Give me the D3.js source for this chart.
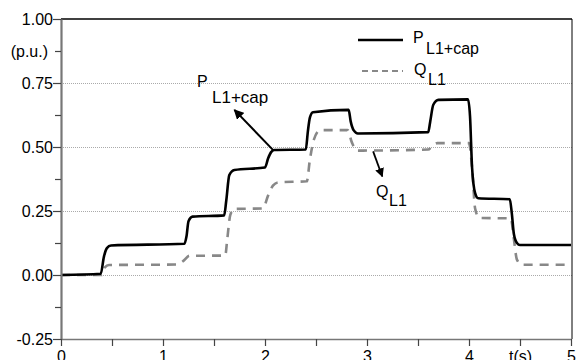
<!DOCTYPE html>
<html>
<head>
<meta charset="utf-8">
<script src="https://cdn.jsdelivr.net/npm/d3@7"></script>
<style>
  body { margin: 0; background: #fff; }
  text { font-family: "Liberation Sans", Arial, sans-serif; fill: #000; }
</style>
</head>
<body>
<div id="chart"></div>
<script>
// P_L1+cap (solid black)
var pTime = [0, 0.39, 0.42, 0.45, 0.49, 1.21, 1.23, 1.25, 1.29, 1.6, 1.62, 1.65, 1.7, 2.0, 2.03, 2.06, 2.09, 2.4, 2.42, 2.44, 2.47, 2.82, 2.84, 2.87, 2.91, 3.6, 3.62, 3.65, 3.7, 3.99, 4.01, 4.03, 4.06, 4.09, 4.4, 4.42, 4.44, 4.47, 4.5, 5.0];
var pValue = [0.0, 0.005, 0.07, 0.105, 0.115, 0.122, 0.15, 0.21, 0.228, 0.233, 0.29, 0.39, 0.41, 0.42, 0.455, 0.48, 0.488, 0.49, 0.56, 0.615, 0.636, 0.645, 0.6, 0.565, 0.553, 0.558, 0.6, 0.665, 0.684, 0.686, 0.62, 0.42, 0.32, 0.3, 0.296, 0.24, 0.16, 0.125, 0.117, 0.117];

// Q_L1 (dashed grey)
var qTime = [0, 0.4, 0.43, 0.47, 1.14, 1.2, 1.26, 1.61, 1.63, 1.66, 1.7, 1.98, 2.03, 2.08, 2.13, 2.41, 2.44, 2.48, 2.54, 2.81, 2.85, 2.9, 3.6, 3.64, 3.69, 4.0, 4.03, 4.06, 4.1, 4.41, 4.44, 4.47, 4.52, 5.0];
var qValue = [0.0, 0.0, 0.03, 0.039, 0.041, 0.055, 0.075, 0.076, 0.14, 0.235, 0.258, 0.26, 0.31, 0.35, 0.362, 0.366, 0.45, 0.53, 0.566, 0.566, 0.52, 0.486, 0.49, 0.505, 0.515, 0.515, 0.42, 0.26, 0.223, 0.221, 0.14, 0.06, 0.04, 0.04];

var yTicks = [1, 0.875, 0.75, 0.625, 0.5, 0.375, 0.25, 0.125, 0, -0.125, -0.25];
var yTickLabels = ["1.00", "(p.u.)", "0.75", "", "0.50", "", "0.25", "", "0.00", "", "-0.25"];
var xTicks = [0, 0.5, 1, 1.5, 2, 2.5, 3, 3.5, 4, 4.5, 5];
var xTickLabels = ["0", "", "1", "", "2", "", "3", "", "4", "t(s)", "5"];
var gridValues = [0.75, 0.5, 0.25, 0];

const drawChart = () => {

    var width = 577, height = 360;
    var mLeft = 61, mRight = 571, mTop = 19, mBottom = 339;

    var svg = d3.select("#chart").append("svg")
        .attr("width", width)
        .attr("height", height);

    var xScale = d3.scaleLinear().domain([0, 5]).range([mLeft, mRight]);
    var yScale = d3.scaleLinear().domain([-0.25, 1]).range([mBottom, mTop]);

    /* grid */
    svg.append("g").selectAll("line")
        .data(gridValues).enter()
        .append("line")
        .attr("x1", mLeft).attr("x2", mRight + 1)
        .attr("y1", d => Math.round(yScale(d)) + 0.5)
        .attr("y2", d => Math.round(yScale(d)) + 0.5)
        .style("stroke", "#aaa")
        .style("stroke-width", 1)
        .style("stroke-dasharray", "1,1");

    /* frame top and right */
    svg.append("line")
        .attr("x1", mLeft).attr("x2", mRight + 1)
        .attr("y1", yScale(1)).attr("y2", yScale(1))
        .style("stroke", "#000").style("stroke-width", 1.5);
    svg.append("line")
        .attr("x1", mRight + 1).attr("x2", mRight + 1)
        .attr("y1", yScale(1)).attr("y2", mBottom)
        .style("stroke", "#000").style("stroke-width", 1);

    /* lines */
    svg.append("clipPath").attr("id", "clip")
        .append("rect").attr("x", mLeft).attr("y", mTop)
        .attr("width", mRight - mLeft).attr("height", mBottom - mTop);

    var pData = pTime.map((t, i) => ({t: t, v: pValue[i]}));
    var qData = qTime.map((t, i) => ({t: t, v: qValue[i]}));

    var line = d3.line()
        .x(d => xScale(d.t))
        .y(d => yScale(d.v))
        .curve(d3.curveMonotoneX);

    svg.append("path")
        .attr("clip-path", "url(#clip)")
        .attr("d", line(qData))
        .style("fill", "none")
        .style("stroke", "#888")
        .style("stroke-width", 2.6)
        .style("stroke-dasharray", "9,7");

    svg.append("path")
        .attr("clip-path", "url(#clip)")
        .attr("d", line(pData))
        .style("fill", "none")
        .style("stroke", "#000")
        .style("stroke-width", 2.6);

    /* axes */
    var yAxis = d3.axisLeft(yScale)
        .tickValues(yTicks)
        .tickSize(8)
        .tickSizeOuter(0)
        .tickPadding(1)
        .tickFormat((d, i) => yTickLabels[i]);

    var gy = svg.append("g")
        .attr("transform", `translate(${mLeft}, 0)`)
        .call(yAxis);
    gy.select(".domain").style("stroke", "#777").style("stroke-width", 2.2);
    gy.selectAll(".tick line")
        .style("stroke", "#444")
        .style("stroke-width", 1.2)
        .attr("x2", (d, i) => yTickLabels[i] === "" || i === 1 ? -6 : -8);
    gy.selectAll(".tick text")
        .style("font-size", "16px")
        .attr("x", (d, i) => i === 1 ? -13 : -8)
        .attr("font-family", null);

    var xAxis = d3.axisBottom(xScale)
        .tickValues(xTicks)
        .tickSize(7)
        .tickSizeOuter(0)
        .tickPadding(5)
        .tickFormat((d, i) => xTickLabels[i]);

    var gx = svg.append("g")
        .attr("transform", `translate(0, ${mBottom})`)
        .call(xAxis);
    gx.select(".domain").style("stroke", "#777").style("stroke-width", 1.6);
    gx.selectAll(".tick line").style("stroke", "#444").style("stroke-width", 1.2);
    gx.selectAll(".tick text")
        .style("font-size", "16px")
        .attr("font-family", null);

    /* legend */
    svg.append("line")
        .attr("x1", 358).attr("x2", 403).attr("y1", 40).attr("y2", 40)
        .style("stroke", "#000").style("stroke-width", 2.6);
    svg.append("line")
        .attr("x1", 362).attr("x2", 403).attr("y1", 71).attr("y2", 71)
        .style("stroke", "#888").style("stroke-width", 2.2)
        .style("stroke-dasharray", "6,4");

    svg.append("text").attr("x", 413).attr("y", 43).style("font-size", "16px").text("P");
    svg.append("text").attr("x", 426).attr("y", 54).style("font-size", "16px").text("L1+cap");
    svg.append("text").attr("x", 414).attr("y", 75).style("font-size", "16px").text("Q");
    svg.append("text").attr("x", 428).attr("y", 85).style("font-size", "16px").text("L1");

    /* annotations */
    svg.append("defs").append("marker")
        .attr("id", "arrow")
        .attr("viewBox", "0 0 10 10")
        .attr("refX", 9).attr("refY", 5)
        .attr("markerWidth", 5).attr("markerHeight", 5)
        .attr("orient", "auto")
        .append("path").attr("d", "M0,0 L10,5 L0,10 z").style("fill", "#000");

    svg.append("line")
        .attr("x1", xScale(2.08)).attr("y1", yScale(0.488))
        .attr("x2", xScale(1.70)).attr("y2", yScale(0.645))
        .style("stroke", "#000").style("stroke-width", 2)
        .attr("marker-end", "url(#arrow)");
    svg.append("text").attr("x", 197).attr("y", 87).style("font-size", "16px").text("P");
    svg.append("text").attr("x", 212).attr("y", 103).style("font-size", "17px").text("L1+cap");

    svg.append("line")
        .attr("x1", xScale(3.06)).attr("y1", yScale(0.483))
        .attr("x2", xScale(3.15)).attr("y2", yScale(0.385))
        .style("stroke", "#000").style("stroke-width", 1.8)
        .attr("marker-end", "url(#arrow)");
    svg.append("text").attr("x", 376).attr("y", 197).style("font-size", "16px").text("Q");
    svg.append("text").attr("x", 389).attr("y", 206).style("font-size", "16px").text("L1");
};

drawChart();
</script>
</body>
</html>
